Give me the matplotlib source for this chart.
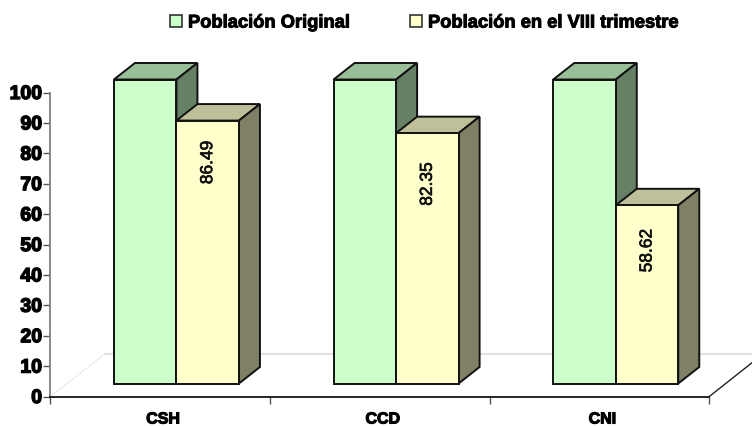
import matplotlib
matplotlib.use("Agg")
import matplotlib.pyplot as plt
import matplotlib.patheffects as pe
from matplotlib.patches import Polygon, Rectangle

categories = ["CSH", "CCD", "CNI"]
original = [100, 100, 100]
viii_trimestre = [86.49, 82.35, 58.62]
value_labels = ["86.49", "82.35", "58.62"]
label_heights = [77, 69.9, 48]
y_ticks = list(range(0, 101, 10))
series_names = ["Población Original", "Población en el VIII trimestre"]

plt.rcParams["font.family"] = ["Liberation Sans", "DejaVu Sans"]
plt.rcParams["font.weight"] = "bold"

W, H = 752, 427
fig = plt.figure(figsize=(W / 100, H / 100), dpi=100)
# plot frame in pixels: x 50..709, y 93..397
ax = fig.add_axes([50.3 / W, 1 - 397.5 / H, 659 / W, 304 / H])
ax.set_xlim(0, 3)
ax.set_ylim(0, 100)
ax.patch.set_alpha(0)

# pixel sizes turned into data units
px_x = 3 / 659
px_y = 100 / 304
bar_w = 62.5 * px_x
depth_x = 21 * px_x
depth_y = 16.5 * px_y
base_x = 16.3 * px_x
base_y = 13 * px_y
floor_x = 55 * px_x
floor_y = 43 * px_y

BLACK = "#111111"


def bar3d(left, value, front, top, side):
    b = base_y
    t = base_y + value
    r = left + bar_w
    for pts, col in [
        ([(left, t), (r, t), (r + depth_x, t + depth_y), (left + depth_x, t + depth_y)], top),
        ([(r, b), (r + depth_x, b + depth_y), (r + depth_x, t + depth_y), (r, t)], side),
        ([(left, b), (r, b), (r, t), (left, t)], front),
    ]:
        ax.add_patch(Polygon(pts, closed=True, facecolor=col, edgecolor=BLACK,
                             linewidth=1.4, joinstyle="miter", clip_on=False, zorder=3))


# floor
ax.plot([0, floor_x], [0, floor_y], color="#d8d8d8", lw=0.9, ls=(0, (1, 1)), clip_on=False, zorder=1)
ax.plot([floor_x, 702 * px_x], [floor_y, floor_y], color="#dcdcdc", lw=1.2, clip_on=False, zorder=1)
ax.plot([3, 3 + 43 * px_x], [0, 34 * px_y], color="#222222", lw=1.0, clip_on=False, zorder=1)

for i, cat in enumerate(categories):
    left = i + 0.5 + base_x - bar_w
    bar3d(left, original[i], "#CCFFCC", "#99BF99", "#668066")
    bar3d(left + bar_w, viii_trimestre[i], "#FFFFCC", "#BFBF99", "#808066")
    ax.text(left + 1.5 * bar_w, label_heights[i], value_labels[i],
            rotation=90, ha="center", va="center", fontsize=12.5, fontweight="normal",
            color="#111111", zorder=4,
            path_effects=[pe.withStroke(linewidth=0.5, foreground="#111111")])

ax.set_xticks([0, 1, 2, 3])
ax.set_xticklabels([])
ax.set_yticks(y_ticks)
ax.tick_params(axis="y", length=5, width=1, color="#555555", pad=1, labelsize=14)
ax.tick_params(axis="x", length=5, width=1, color="#555555")
for lab in ax.get_yticklabels():
    lab.set_path_effects([pe.withStroke(linewidth=1.0, foreground="black")])

for i, cat in enumerate(categories):
    ax.text(i + 0.5 + 3 * px_x, -22.5 * px_y, cat, ha="center", va="center", fontsize=11.5,
            color="black", clip_on=False,
            path_effects=[pe.withStroke(linewidth=0.8, foreground="black")])

for s in ["top", "right"]:
    ax.spines[s].set_visible(False)
ax.spines["left"].set_color("#808080")
ax.spines["left"].set_linewidth(1.3)
ax.spines["bottom"].set_color("black")
ax.spines["bottom"].set_linewidth(1.2)

# legend built by hand, the original has no frame and tight spacing
leg = [(170, "#CCFFCC", 188), (410, "#FFFFCC", 428)]
for (sx, col, tx), name in zip(leg, series_names):
    fig.add_artist(Rectangle((sx / W, 1 - 27.5 / H), 12 / W, 12 / H, transform=fig.transFigure,
                             facecolor=col, edgecolor="#222222", linewidth=1.1))
    fig.text(tx / W, 1 - 24 / H, name, ha="left", va="center", fontsize=13.2, color="black",
             path_effects=[pe.withStroke(linewidth=0.7, foreground="black")])

fig.savefig("out.png", dpi=100)
